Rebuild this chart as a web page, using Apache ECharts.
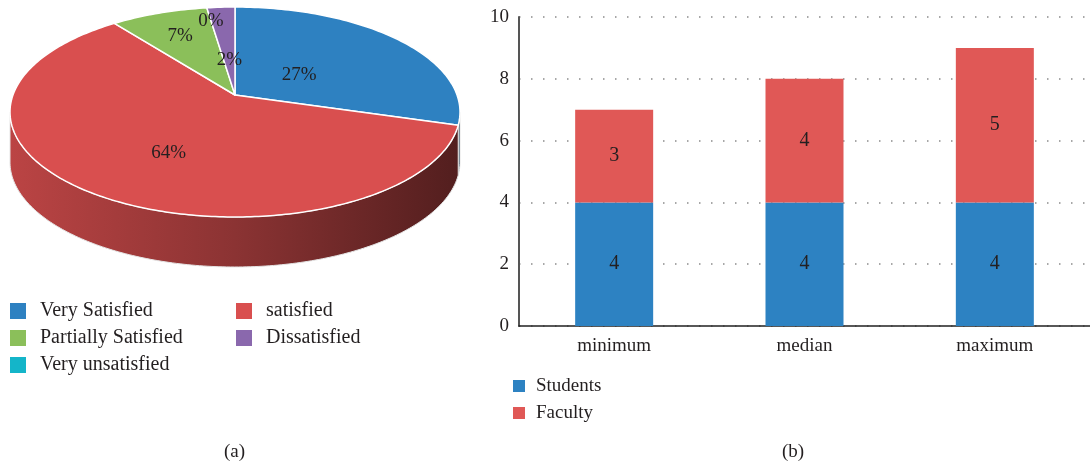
<!DOCTYPE html>
<html>
<head>
<meta charset="utf-8">
<script src="https://cdn.jsdelivr.net/npm/echarts@6/dist/echarts.min.js"></script>
<style>
html,body{margin:0;padding:0;background:#fff;}
#c{width:1090px;height:468px;}
</style>
</head>
<body>
<div id="c"></div>
<script>
// ---- data ----
const pieNames = ['Very Satisfied', 'satisfied', 'Partially Satisfied', 'Very unsatisfied', 'Dissatisfied'];
const pieValues = [27, 64, 7, 0, 2];
const pieLegendOrder = ['Very Satisfied', 'satisfied', 'Partially Satisfied', 'Dissatisfied', 'Very unsatisfied'];

const barCategories = ['minimum', 'median', 'maximum'];
const studentsValues = [4, 4, 4];
const facultyValues = [3, 4, 5];
const yTicks = [0, 2, 4, 6, 8, 10];

// ---- style / layout ----
const FONT = '"Liberation Serif", "DejaVu Serif", serif';
const TXT = '#231f20';
const pieColors = ['#2e81c1', '#d94f4f', '#8bbf5a', '#14b5c9', '#8a68ad'];
const P = { cx: 235, cy: 112, rx: 225, ry: 105, ax: 235, ay: 95, depth: 50 };
const labelFrac = [0.38, 0.55, 0.72, 0.85, 0.4];
const total = pieValues.reduce((a, b) => a + b, 0);

function darken(hex, k) {
  const n = parseInt(hex.slice(1), 16);
  const r = Math.round(((n >> 16) & 255) * k), g = Math.round(((n >> 8) & 255) * k), b = Math.round((n & 255) * k);
  return 'rgb(' + r + ',' + g + ',' + b + ')';
}
function ept(a, dy) {
  return [P.cx + P.rx * Math.cos(a), P.cy - P.ry * Math.sin(a) + (dy || 0)];
}
function arc(a0, a1, dy) {
  const pts = [];
  const n = Math.max(2, Math.ceil(Math.abs(a1 - a0) / (Math.PI / 180)));
  for (let k = 0; k <= n; k++) pts.push(ept(a0 + (a1 - a0) * k / n, dy));
  return pts;
}

function makeRenderItem(i) {
  return function (params, api) {
    const v = api.value(0);
    let before = 0;
    for (let j = 0; j < i; j++) before += pieValues[j];
    const deg = Math.PI / 180;
    const a0 = (90 - before / total * 360) * deg;
    const a1 = a0 - v / total * 360 * deg;
    const children = [];
    const color = pieColors[i];
    // side (visible front part: angles within [-180, 0])
    const lo = Math.max(a1, -Math.PI), hi = Math.min(a0, 0);
    if (hi > lo) {
      const top = arc(hi, lo, 0);
      const bot = arc(lo, hi, P.depth);
      children.push({
        type: 'polygon',
        z2: 1,
        shape: { points: top.concat(bot) },
        style: {
          fill: {
            type: 'linear', global: true,
            x: P.cx - P.rx, y: 0, x2: P.cx + P.rx, y2: 0,
            colorStops: [
              { offset: 0, color: darken(color, 0.86) },
              { offset: 0.5, color: darken(color, 0.64) },
              { offset: 1, color: darken(color, 0.38) }
            ]
          },
          stroke: '#e4e4e4', lineWidth: 1
        }
      });
    }
    if (v > 0) {
      const pts = [[P.ax, P.ay]].concat(arc(a0, a1, 0));
      children.push({
        type: 'polygon',
        z2: 10,
        shape: { points: pts },
        style: { fill: color, stroke: '#ffffff', lineWidth: 1.5, lineJoin: 'round' }
      });
    }
    const am = (a0 + a1) / 2;
    const e = ept(am, 0);
    const f = labelFrac[i];
    children.push({
      type: 'text',
      z2: 20,
      x: P.ax + f * (e[0] - P.ax),
      y: P.ay + f * (e[1] - P.ay),
      style: {
        text: Math.round(v / total * 100) + '%',
        font: '19px ' + FONT,
        fill: TXT, align: 'center', verticalAlign: 'middle'
      }
    });
    return { type: 'group', children: children };
  };
}

const pieSeries = pieNames.map((name, i) => ({
  type: 'custom',
  name: name,
  coordinateSystem: 'none',
  color: pieColors[i],
  itemStyle: { color: pieColors[i] },
  data: [[pieValues[i]]],
  renderItem: makeRenderItem(i),
  silent: true
}));

const chart = echarts.init(document.getElementById('c'), null, { renderer: 'canvas' });
chart.setOption({
  animation: false,
  backgroundColor: '#ffffff',
  textStyle: { fontFamily: FONT },
  legend: [
    {
      data: pieLegendOrder.map(n => ({ name: n, icon: 'rect' })),
      left: 10, top: 301, width: 470, padding: 0,
      orient: 'horizontal',
      itemWidth: 16, itemHeight: 16, itemGap: 7,
      selectedMode: false,
      textStyle: { fontFamily: FONT, fontSize: 20, color: TXT, width: 189, lineHeight: 20, padding: [0, 0, 0, 9] }
    },
    {
      data: [{ name: 'Students', icon: 'rect' }, { name: 'Faculty', icon: 'rect' }],
      left: 513, top: 376, orient: 'vertical', padding: 0,
      itemWidth: 12, itemHeight: 12, itemGap: 7,
      selectedMode: false,
      textStyle: { fontFamily: FONT, fontSize: 19, color: TXT, lineHeight: 20, padding: [0, 0, 0, 6] }
    }
  ],
  grid: { left: 519, top: 17, width: 579, height: 309, containLabel: false },
  xAxis: {
    type: 'category',
    data: barCategories,
    axisLine: { lineStyle: { color: '#222', width: 1.5 } },
    axisTick: { show: false },
    axisLabel: { fontFamily: FONT, fontSize: 19, color: TXT, margin: 11 },
    splitLine: { show: false }
  },
  yAxis: {
    type: 'value',
    min: yTicks[0], max: yTicks[yTicks.length - 1], interval: 2,
    axisLine: { show: true, lineStyle: { color: '#555', width: 2 } },
    axisTick: { show: false },
    axisLabel: { fontFamily: FONT, fontSize: 19, color: TXT, margin: 10 },
    splitLine: { show: true, lineStyle: { color: '#8a8a8a', width: 1.5, type: [1.5, 10.5] } }
  },
  graphic: [
    { type: 'text', left: 224, top: 443, style: { text: '(a)', font: '19px ' + FONT, fill: TXT } },
    { type: 'text', left: 782, top: 443, style: { text: '(b)', font: '19px ' + FONT, fill: TXT } }
  ],
  series: pieSeries.concat([
    {
      type: 'bar', name: 'Students', stack: 's', data: studentsValues,
      barWidth: 78, itemStyle: { color: '#2d82c2' },
      label: { show: true, position: 'inside', fontFamily: FONT, fontSize: 20, color: TXT }
    },
    {
      type: 'bar', name: 'Faculty', stack: 's', data: facultyValues,
      barWidth: 78, itemStyle: { color: '#e05856' },
      label: { show: true, position: 'inside', fontFamily: FONT, fontSize: 20, color: TXT }
    }
  ])
});
</script>
</body>
</html>
